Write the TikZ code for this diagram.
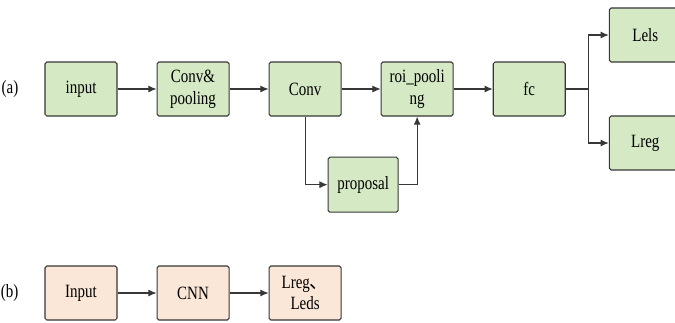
\documentclass[tikz,border=0pt]{standalone}
\usepackage{fontspec}
\setmainfont{Liberation Serif}
\newfontfamily\timesfont[FakeStretch=0.8]{Liberation Serif}
\newfontfamily\cjk{Noto Sans CJK SC}
\usetikzlibrary{positioning,arrows.meta}
\definecolor{boxgreen}{RGB}{213,233,196}
\definecolor{boxorange}{RGB}{250,231,215}
\definecolor{edgegray}{RGB}{55,55,55}

\begin{document}
\begin{tikzpicture}[
  x=0.03cm, y=0.03cm,
  block/.style={rectangle, rounded corners=1.5pt, draw=edgegray, line width=0.9pt, minimum width=2.16cm, minimum height=1.62cm, align=center, inner sep=1pt},
  gblock/.style={block, fill=boxgreen},
  oblock/.style={block, fill=boxorange},
  link/.style={-{Latex[length=7pt,width=6pt]}, draw=edgegray, line width=0.9pt},
  node distance=1.17cm,
  font=\timesfont\fontsize{16}{18.5}\selectfont
]
\clip (0,0) rectangle (675,322);

% (a) two-stage
\node[gblock] (input) at (81,233) {input};
\node[left=0.66cm of input] (la) {(a)};
\node[gblock, right=of input] (convpool) {Conv\&\\pooling};
\node[gblock, right=of convpool] (conv) {Conv};
\node[gblock, right=of conv] (roi) {roi\_pooli\\ng};
\node[gblock, right=of roi] (fc) {fc};
\node[gblock, below=2.87cm of conv.center, anchor=center, xshift=1.74cm, minimum width=2.1cm, minimum height=1.65cm] (proposal) {proposal};

% Heads
\coordinate[right=0.69cm of fc.east] (fork);
\node[gblock, right=1.29cm of fc, yshift=1.62cm] (lcls) {Lels};
\node[gblock, right=1.29cm of fc, yshift=-1.62cm] (lreg) {Lreg};

% (b) one-stage
\node[oblock] (input2) at (81,29) {Input};
\node[left=0.66cm of input2] (lb) {(b)};
\node[oblock, right=of input2] (cnn) {CNN};
\node[oblock, right=of cnn] (out) {Lreg{\cjk 、}\\Leds};

% Connections
\draw[link] (input) -- (convpool);
\draw[link] (convpool) -- (conv);
\draw[link] (conv) -- (roi);
\draw[link] (roi) -- (fc);
\draw[link] (conv.south) |- (proposal.west);
\draw[link] (proposal.east) -| (roi.south);
\draw[draw=edgegray, line width=0.9pt] (fc.east) -- (fork);
\draw[link] (fork) |- (lcls.west);
\draw[link] (fork) |- (lreg.west);
\draw[link] (input2) -- (cnn);
\draw[link] (cnn) -- (out);
\end{tikzpicture}
\end{document}
